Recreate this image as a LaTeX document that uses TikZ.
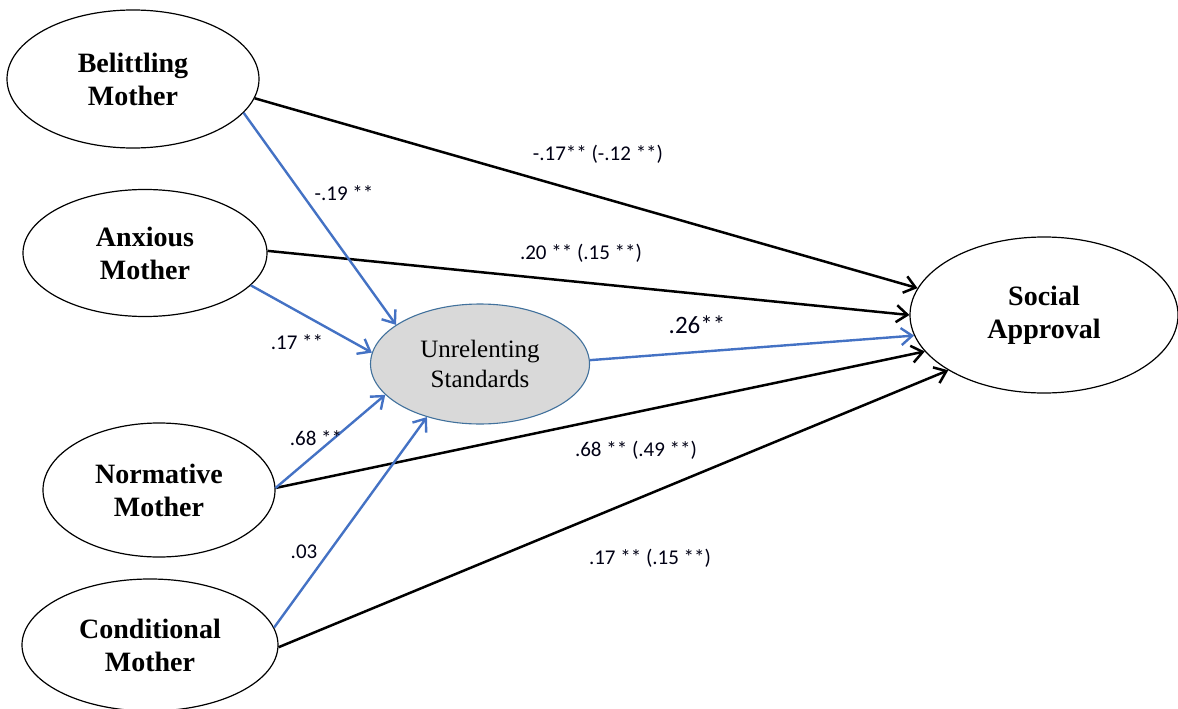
\documentclass[tikz,border=0pt]{standalone}
\usepackage{fontspec}
\setmainfont{Liberation Serif}
\newfontfamily\labfont{Carlito}
\usetikzlibrary{shapes.geometric,arrows.meta}
\definecolor{arrblue}{HTML}{4472C4}
\definecolor{ushade}{HTML}{D9D9D9}
\definecolor{uborder}{HTML}{41719C}
\begin{document}
\begin{tikzpicture}[x=1pt,y=-1pt,
  latent/.style={ellipse, draw=black, line width=1.2pt, inner sep=0pt, align=center,
    font=\fontsize{28}{33}\selectfont\bfseries},
  med/.style={ellipse, draw=uborder, fill=ushade, line width=1.1pt, inner sep=0pt, align=center,
    font=\fontsize{25}{30}\selectfont},
  pathblack/.style={draw=black, line width=2.5pt, -{Straight Barb[length=11pt,width=17pt,line width=2.5pt]}},
  pathblue/.style={draw=arrblue, line width=2.4pt, -{Straight Barb[length=11pt,width=17pt,line width=2.4pt]}},
  coef/.style={font=\labfont\fontsize{21}{25}\selectfont, inner sep=0pt, text=black!92!blue}
]
\useasboundingbox (0,0) rectangle (1178,709);

\node[latent, minimum width=252pt, minimum height=138pt] (bel) at (133,79) {Belittling\\Mother};
\node[latent, minimum width=244pt, minimum height=127pt] (anx) at (145,253) {Anxious\\Mother};
\node[latent, minimum width=232pt, minimum height=134pt] (nor) at (159,490) {Normative\\Mother};
\node[latent, minimum width=256pt, minimum height=132pt] (con) at (150,645) {Conditional\\Mother};
\node[med, minimum width=219pt, minimum height=120pt] (unr) at (480,364) {Unrelenting\\Standards};
\node[latent, minimum width=268pt, minimum height=156pt] (sa) at (1044,315) {Social\\Approval};

% direct paths
\draw[pathblack] (bel.-9) -- (sa.168);
\draw[pathblack] (anx.1) -- (sa.180);
\draw[pathblack] (nor.1) -- (sa.197);
\draw[pathblack] (con.-1) -- (sa.210);

% mediated paths
\draw[pathblue] (bel.-17) -- (unr.155);
\draw[pathblue] (anx.-17) -- (unr.174);
\draw[pathblue] (nor.1) -- (unr.198);
\draw[pathblue] (con.8) -- (unr.225);
\draw[pathblue] (unr.2) -- (sa.189);

% coefficients
\node[coef] (c1) at (598,154) {-.17** (-.12 **)};
\node[coef] (c2) at (344,193) {-.19 **};
\node[coef] (c3) at (581,253) {.20 ** (.15 **)};
\node[coef] (c4) at (297,342) {.17 **};
\node[coef, font=\labfont\fontsize{25}{29}\selectfont] (c5) at (697,325) {.26**};
\node[coef] (c6) at (316,438) {.68 **};
\node[coef] (c7) at (636,450) {.68 ** (.49 **)};
\node[coef] (c8) at (304,552) {.03};
\node[coef] (c9) at (650,558) {.17 ** (.15 **)};
\end{tikzpicture}
\end{document}
